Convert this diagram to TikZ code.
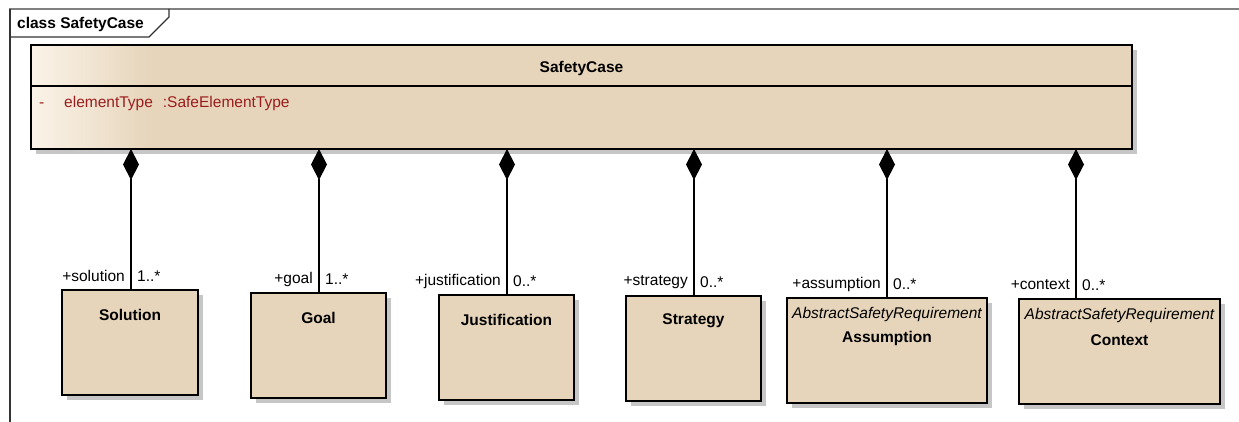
\documentclass[tikz,border=0pt]{standalone}
\usepackage{fontspec}
\setmainfont{Liberation Sans}
\usetikzlibrary{arrows.meta,calc,positioning,shadows}
\definecolor{umlfill}{HTML}{E6D5BB}
\definecolor{umllight}{HTML}{FBF3E8}
\definecolor{attrred}{HTML}{9B1C1C}
\definecolor{framegray}{HTML}{808080}
\definecolor{shadowgray}{HTML}{C6C6C6}

\begin{document}
\begin{tikzpicture}[x=1pt,y=-1pt,>=Latex,
  every node/.style={font=\fontsize{15.5}{18}\selectfont,inner sep=0pt},
  cls/.style={draw=black,line width=1.5pt,fill=umlfill,outer sep=0pt,minimum height=105pt,
    drop shadow={shadow xshift=5pt,shadow yshift=-5pt,fill=shadowgray,opacity=1}},
  clsname/.style={font=\fontsize{15.5}{18}\selectfont\bfseries},
  stereo/.style={font=\fontsize{15.5}{18}\selectfont\itshape},
  comp/.style={line width=1.3pt,-{Diamond[length=31pt,width=16pt]}}]
\useasboundingbox (0,0) rectangle (1239,422);
% frame and tab
\draw[framegray,line width=1.5pt] (9,9) -- (1239,9);
\draw[black!80,line width=1.3pt] (10,9) -- (10,422);
\draw[black!80,line width=1.2pt] (169,9) -- (169,17) -- (149,37) -- (10,37);
\node[clsname,anchor=west] (frame-title) at (17,24) {class SafetyCase};
% whole class, light band on the left
\node[cls,minimum width=1101pt,minimum height=104pt,anchor=north west,
  path picture={\foreach \i in {0,...,59}{
      \pgfmathtruncatemacro{\pc}{\i*100/59}
      \fill[umlfill!\pc!umllight] ([xshift=2*\i pt]path picture bounding box.north west)
        rectangle ([xshift=2*\i pt+2.2pt]path picture bounding box.south west);}}]
  (sc) at (31,45) {};
\node[clsname] (sc-name) at ([yshift=-23pt]sc.north) {SafetyCase};
\draw[line width=1.5pt] ([yshift=-41pt]sc.north west) -- ([yshift=-41pt]sc.north east);
\node[anchor=base west,text=attrred] (sc-vis) at (39,108) {-};
\node[anchor=base west,text=attrred] (sc-attr) at (64,108) {elementType\hspace{10pt}:SafeElementType};
% parts
\foreach \n/\bx/\by/\bw/\lx/\role/\mult in {sol/62/290/136/131/solution/1..*,
  goal/251/293/135/319/goal/1..*, just/439/295/135/507/justification/0..*,
  strat/626/296/135/694/strategy/0..*, asm/787/298/200/887/assumption/0..*,
  ctx/1019/299/201/1076/context/0..*}{
  \node[cls,minimum width=\bw pt,anchor=north west] (\n) at (\bx,\by) {};
  \coordinate (\n-top) at (\lx,\by);
  \draw[comp] (\n-top) -- (\n-top |- sc.south);
  \node[anchor=east] (\n-role) at ([xshift=-6pt,yshift=14pt]\n-top) {+\role};
  \node[anchor=west] (\n-mult) at ([xshift=6pt,yshift=14pt]\n-top) {\mult};
}
\node[clsname] (sol-name) at ([yshift=-25pt]sol.north) {Solution};
\node[clsname] (goal-name) at ([yshift=-25pt]goal.north) {Goal};
\node[clsname] (just-name) at ([yshift=-25pt]just.north) {Justification};
\node[clsname] (strat-name) at ([yshift=-25pt]strat.north) {Strategy};
\node[stereo] (asm-stereo) at ([yshift=-16pt]asm.north) {AbstractSafetyRequirement};
\node[clsname] (asm-name) at ([yshift=-40pt]asm.north) {Assumption};
\node[stereo] (ctx-stereo) at ([yshift=-16pt]ctx.north) {AbstractSafetyRequirement};
\node[clsname] (ctx-name) at ([yshift=-41pt]ctx.north) {Context};
\end{tikzpicture}
\end{document}
